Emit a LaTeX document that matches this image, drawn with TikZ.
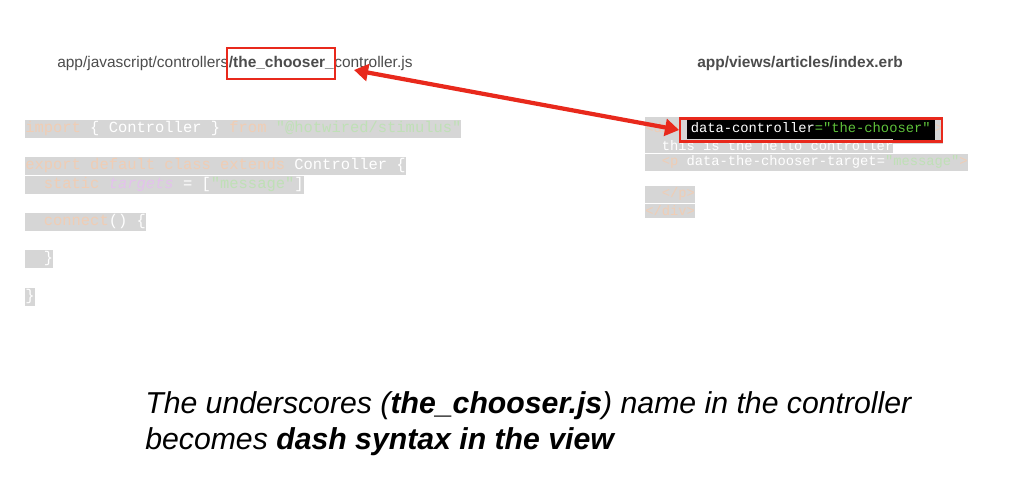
\documentclass[tikz,border=0pt]{standalone}
\usepackage{fontspec}
\setmainfont{Liberation Sans}
\setmonofont{Liberation Mono}
\usetikzlibrary{arrows.meta, positioning}
\definecolor{kwfade}{HTML}{F0CDB4}
\definecolor{strfade}{HTML}{BFE0B6}
\definecolor{purfade}{HTML}{E3C2EC}
\definecolor{codebg}{HTML}{D6D6D6}
\definecolor{markred}{HTML}{E8291C}
\definecolor{okgreen}{HTML}{5FC33B}
\tikzset{
  codeline/.style={anchor=base west, fill=codebg, inner xsep=0pt, inner ysep=1.5pt, text=white, font=\ttfamily\fontsize{11}{12}\selectfont},
  viewline/.style={codeline, font=\ttfamily\fontsize{9.8}{10}\selectfont},
  header/.style={anchor=base west, inner sep=0pt, text=black!70, font=\fontsize{11}{12}\selectfont},
  markbox/.style={draw=markred, line width=1.6pt, inner xsep=3pt, inner ysep=5pt},
  marker/.style={draw=markred, line width=3pt, {Triangle[length=10pt,width=12pt]}-{Triangle[length=10pt,width=12pt]}}
}
\newcommand{\kw}[1]{\textcolor{kwfade}{#1}}
\newcommand{\str}[1]{\textcolor{strfade}{#1}}
\begin{document}
\begin{tikzpicture}
\useasboundingbox (0,0) rectangle (25.6,12.55);
% file names
\node[header] (ctrlpath) at (1.425,10.85) {app/javascript/controllers};
\node[header, font=\bfseries\fontsize{11}{12}\selectfont] (choosername) at (ctrlpath.base east) {/the\_chooser\_};
\node[header] (ctrlfile) at (choosername.base east) {controller.js};
\node[markbox, minimum width=2.7cm, minimum height=0.78cm] (chooserbox) at (choosername.center) {};
\node[header, anchor=base, font=\bfseries\fontsize{11}{12}\selectfont] (viewpath) at (20.0,10.85) {app/views/articles/index.erb};
% controller code
\node[codeline] (js1) at (0.625,9.225) {\kw{import} \{ Controller \} \kw{from} \str{"@hotwired/stimulus"}};
\node[codeline] (js2) at (0.625,8.3) {\kw{export default class extends} Controller \{};
\node[codeline] (js3) at (0.625,7.825) {\kw{~~static} \textcolor{purfade}{\itshape targets} = [\str{"message"}]};
\node[codeline] (js4) at (0.625,6.9) {\kw{~~connect}() \{};
\node[codeline] (js5) at (0.625,5.975) {~~\}};
\node[codeline] (js6) at (0.625,5.025) {\}};
% view code
\node[viewline] (erb1) at (16.125,9.225) {\kw{<div} \colorbox{black}{\strut data-controller\textcolor{okgreen}{="the-chooser"}}\kw{>}};
\node[viewline] (erb2) at (16.125,8.775) {~~this is the hello controller};
\node[viewline] (erb3) at (16.125,8.4) {~~\kw{<p} data-the-chooser-target=\str{"message"}\kw{>}};
\node[viewline] (erb4) at (16.125,7.6) {~~\kw{</p>}};
\node[viewline] (erb5) at (16.125,7.15) {\kw{</div>}};
\node[markbox, minimum width=6.55cm, minimum height=0.58cm] (dcbox) at (20.28,9.3) {};
\coordinate (arrowtail) at (8.85,10.8);
\draw[marker] (arrowtail) -- (dcbox.west);
% caption
\node[anchor=base west, inner sep=0pt, align=left, font=\itshape\fontsize{21.5}{25}\selectfont] (caption) at (3.625,1.325)
  {The underscores (\textbf{the\_chooser.js}) name in the controller\\becomes \textbf{dash syntax in the view}};
\end{tikzpicture}
\end{document}
